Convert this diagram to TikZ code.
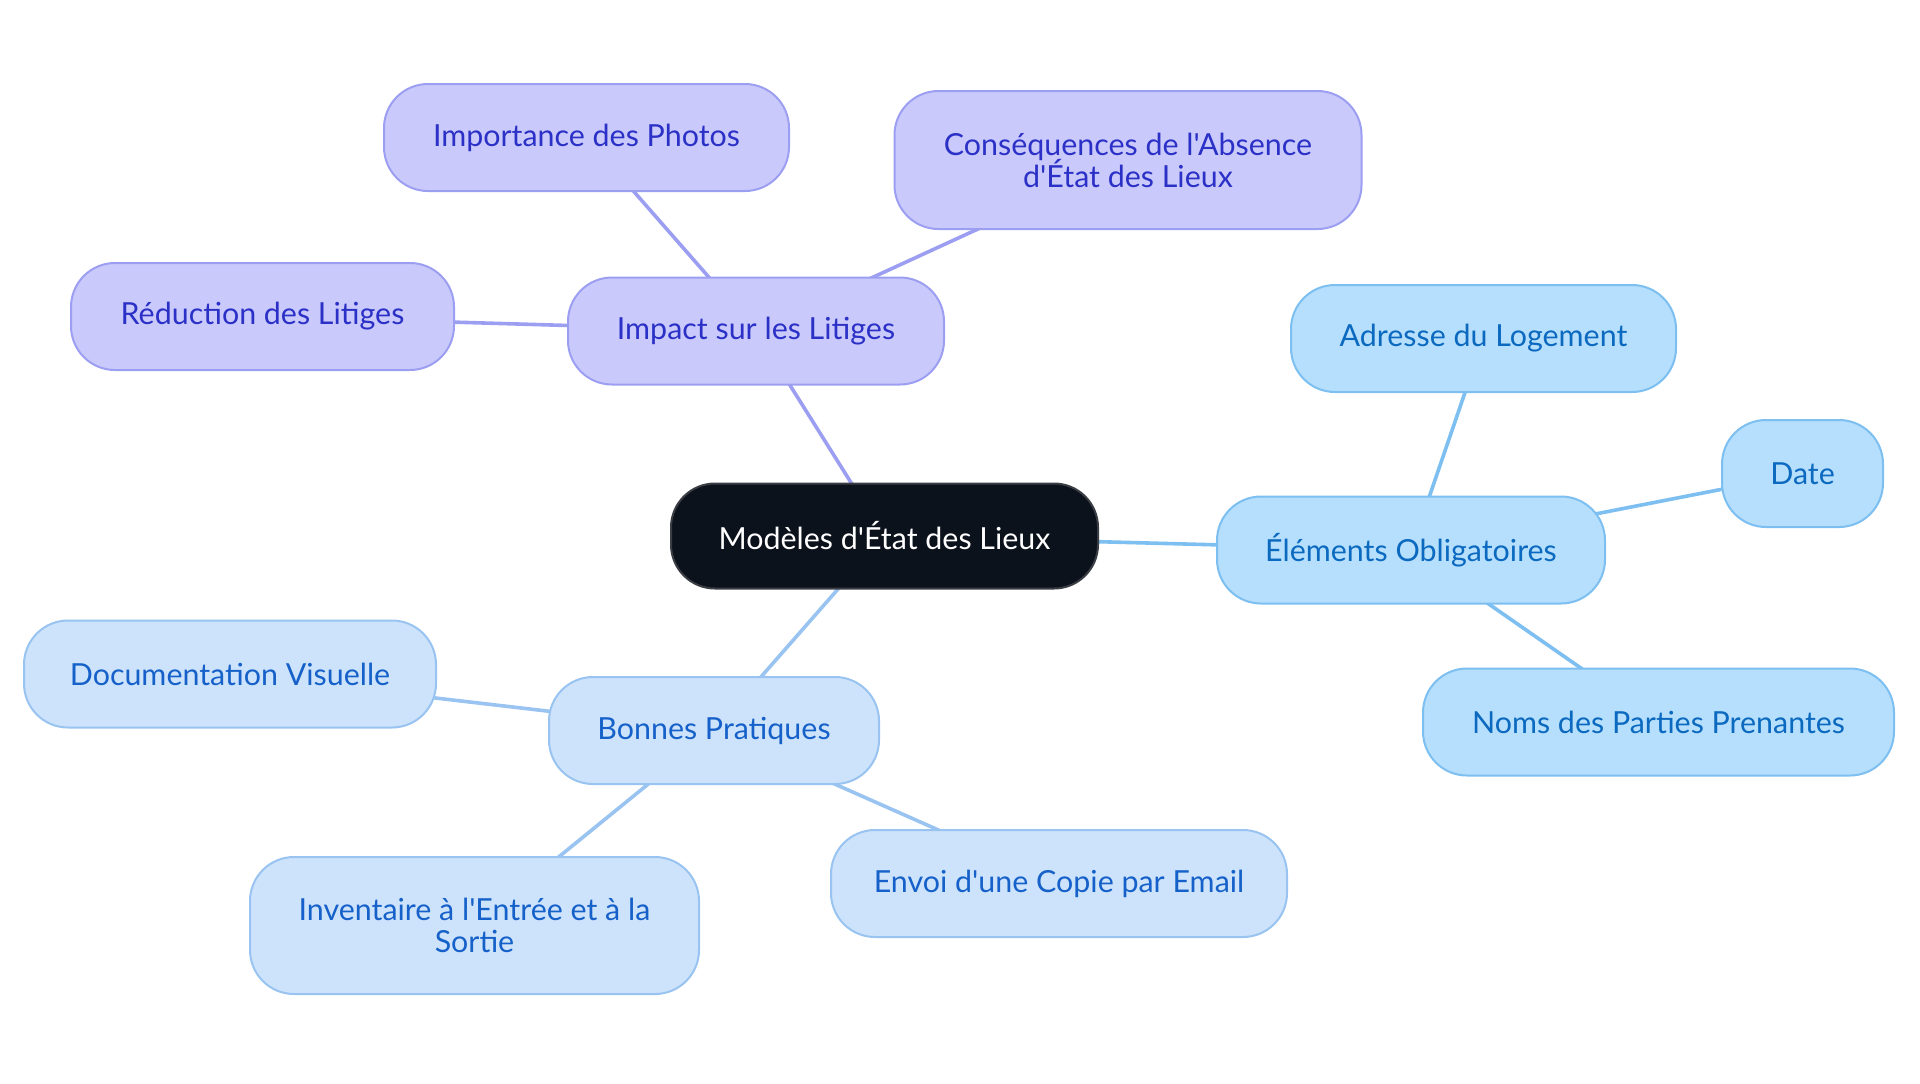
\documentclass[tikz,border=0pt]{standalone}
\usepackage{fontspec}
\setmainfont{Lato}[Ligatures=TeXOff]
\usetikzlibrary{backgrounds}
\definecolor{cdark}{HTML}{0C121C}
\definecolor{cdarkb}{HTML}{3A3D44}
\definecolor{pfill}{HTML}{C9CAFB}
\definecolor{pline}{HTML}{9C9FF1}
\definecolor{ptext}{HTML}{2B30C6}
\definecolor{bfill}{HTML}{B5DFFC}
\definecolor{bline}{HTML}{7CBFF0}
\definecolor{btext}{HTML}{0B69BF}
\definecolor{lfill}{HTML}{CDE3FB}
\definecolor{lline}{HTML}{99C3F0}
\definecolor{ltext}{HTML}{1561C9}
\newcommand\mmboxfont{\fontsize{15.2}{16}\selectfont\lineskiplimit=-20pt\relax}
\tikzset{
  box/.style={rounded corners=22pt, line width=1pt, align=center, inner sep=0pt,
    font=\mmboxfont, minimum height=53.5pt},
  central/.style={box, fill=cdark, draw=cdarkb, text=white},
  pbox/.style={box, fill=pfill, draw=pline, text=ptext},
  bbox/.style={box, fill=bfill, draw=bline, text=btext},
  lbox/.style={box, fill=lfill, draw=lline, text=ltext},
  pedge/.style={draw=pline, line width=1.8pt},
  bedge/.style={draw=bline, line width=1.8pt},
  ledge/.style={draw=lline, line width=1.8pt},
}
\begin{document}
\begin{tikzpicture}[x=0.5pt,y=-0.5pt]
\useasboundingbox (0,0) rectangle (1920,1083);
\node[central, minimum width=213.5pt, minimum height=52.5pt] (c) at (884.5,536) {Modèles d'État des Lieux};
\node[pbox, minimum width=188pt] (imp) at (756,331) {Impact sur les Litiges};
\node[pbox, minimum width=202.5pt] (photo) at (586.5,137.5) {Importance des Photos};
\node[pbox, minimum width=233.5pt, minimum height=69pt] (cons) at (1128,160) {Conséquences de l'Absence\\d'État des Lieux};
\node[pbox, minimum width=191.5pt] (red) at (262.5,316.5) {Réduction des Litiges};
\node[bbox, minimum width=194pt] (elem) at (1411,550) {Éléments Obligatoires};
\node[bbox, minimum width=192.5pt] (addr) at (1483.5,338.5) {Adresse du Logement};
\node[bbox, minimum width=80.5pt] (date) at (1802.5,473.5) {Date};
\node[bbox, minimum width=235.5pt] (noms) at (1658.5,722) {Noms des Parties Prenantes};
\node[lbox, minimum width=165pt] (bon) at (714,730.5) {Bonnes Pratiques};
\node[lbox, minimum width=206pt] (doc) at (230,674) {Documentation Visuelle};
\node[lbox, minimum width=224.5pt, minimum height=68.5pt] (inv) at (474.5,925.5) {Inventaire à l'Entrée et à la\\Sortie};
\node[lbox, minimum width=228pt] (env) at (1059,883.5) {Envoi d'une Copie par Email};
\begin{scope}[on background layer]
\draw[pedge] (c.center) -- (imp.center);
\draw[pedge] (imp.center) -- (photo.center);
\draw[pedge] (imp.center) -- (cons.center);
\draw[pedge] (imp.center) -- (red.center);
\draw[bedge] (c.center) -- (elem.center);
\draw[bedge] (elem.center) -- (addr.center);
\draw[bedge] (elem.center) -- (date.center);
\draw[bedge] (elem.center) -- (noms.center);
\draw[ledge] (c.center) -- (bon.center);
\draw[ledge] (bon.center) -- (doc.center);
\draw[ledge] (bon.center) -- (inv.center);
\draw[ledge] (bon.center) -- (env.center);
\end{scope}
\end{tikzpicture}
\end{document}
